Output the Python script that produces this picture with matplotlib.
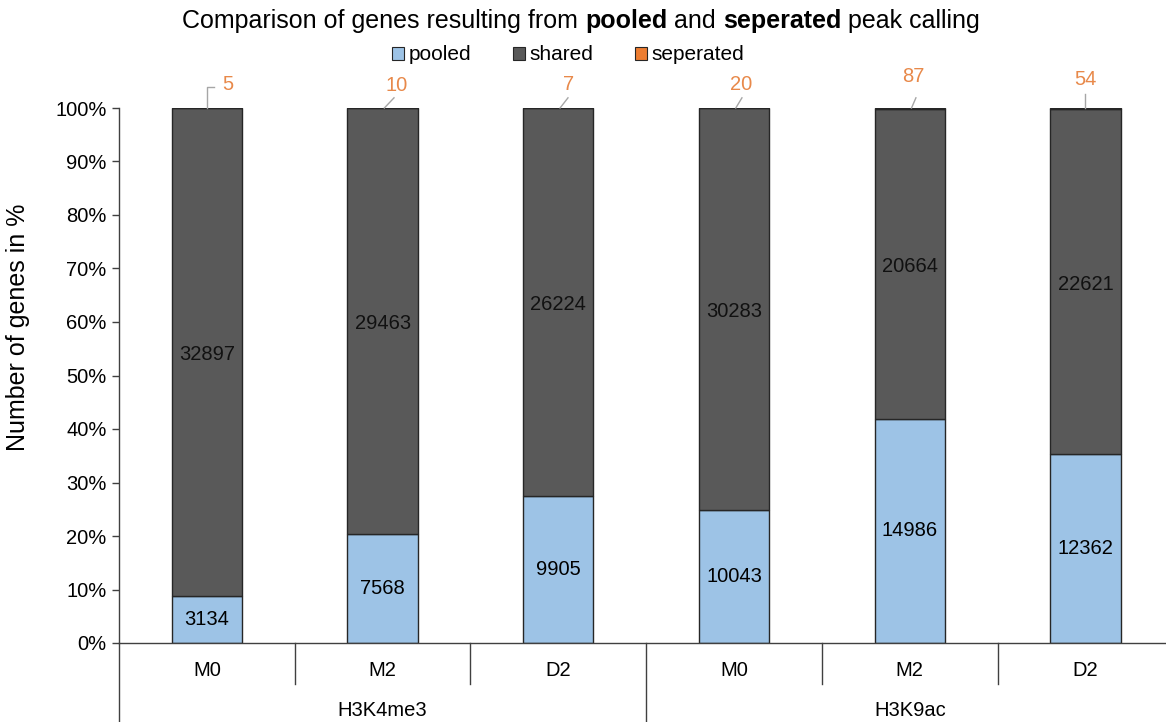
import matplotlib
matplotlib.use("Agg")
import matplotlib.pyplot as plt
import matplotlib.transforms as mtransforms
from matplotlib.patches import Patch
import numpy as np

plt.rcParams['font.family'] = ['Liberation Sans', 'DejaVu Sans']

categories = ["M0", "M2", "D2", "M0", "M2", "D2"]
groups = ["H3K4me3", "H3K9ac"]
pooled = [3134, 7568, 9905, 10043, 14986, 12362]
shared = [32897, 29463, 26224, 30283, 20664, 22621]
seperated = [5, 10, 7, 20, 87, 54]
yticks = [0, 10, 20, 30, 40, 50, 60, 70, 80, 90, 100]

c_pool = "#9DC3E6"
c_shared = "#595959"
c_sep = "#ED7D31"
c_edge = "#262626"

W, H = 1166, 722
fig = plt.figure(figsize=(W / 100, H / 100), dpi=100)
ax = fig.add_axes([119 / W, (H - 643) / H, 1 - 119 / W, (643 - 108) / H])

x = np.arange(len(categories))
pooled = np.array(pooled, float)
shared = np.array(shared, float)
seperated = np.array(seperated, float)
tot = pooled + shared + seperated
p_pool = pooled / tot * 100
p_shared = shared / tot * 100
p_sep = seperated / tot * 100

bw = 0.40
ax.bar(x, p_pool, bw, color=c_pool, edgecolor=c_edge, linewidth=1.0, zorder=2)
ax.bar(x, p_shared, bw, bottom=p_pool, color=c_shared, edgecolor=c_edge, linewidth=1.0, zorder=2)
ax.bar(x, p_sep, bw, bottom=p_pool + p_shared, color=c_sep, edgecolor=c_edge, linewidth=1.0, zorder=2)

fs = 14.5
for i in range(len(x)):
    ax.text(x[i], p_pool[i] / 2, f"{int(pooled[i])}", ha="center", va="center", fontsize=fs, color="black", zorder=3)
    ax.text(x[i], p_pool[i] + p_shared[i] / 2 - 0.5, f"{int(shared[i])}", ha="center", va="center", fontsize=fs, color="#111111", zorder=3)

# separated labels with leader lines (offsets in data units)
lab_off = [(0.12, 4.3), (0.08, 4.2), (0.06, 4.3), (0.04, 4.3), (0.02, 5.8), (0.0, 5.4)]
for i in range(len(x)):
    dx, dy = lab_off[i]
    top = 100
    tx, ty = x[i] + dx, top + dy
    ax.text(tx, ty, f"{int(seperated[i])}", ha="center", va="center", fontsize=fs, color="#E8894A", zorder=3, clip_on=False)
    if i == 0:
        ax.plot([x[i], x[i], x[i] + 0.04], [top, top + 3.9, top + 3.9], color="#A6A6A6", lw=1.0, clip_on=False)
    elif i == 5:
        ax.plot([x[i], x[i]], [top, top + 2.6], color="#A6A6A6", lw=1.0, clip_on=False)
    else:
        ax.plot([x[i] + 0.01, x[i] + dx * 0.5 + 0.025], [top, top + 1.9], color="#A6A6A6", lw=1.0, clip_on=False)

ax.set_ylim(0, 100)
ax.set_xlim(-0.5, (W - 207) / 175.7)
ax.set_yticks(yticks)
ax.set_yticklabels([f"{v}%" for v in yticks], fontsize=fs)
ax.tick_params(axis="y", direction="out", length=5, width=1, color="#404040", pad=4)
ax.set_xticks([])
for s in ["top", "right"]:
    ax.spines[s].set_visible(False)
ax.spines["left"].set_color("#404040")
ax.spines["bottom"].set_color("#404040")
ax.spines["left"].set_linewidth(1.0)
ax.spines["bottom"].set_linewidth(1.0)
fig.text(18 / W, 1 - 327 / H, "Number of genes in %", rotation=90, ha="center", va="center", fontsize=18)

# multi-level x axis
tr = mtransforms.blended_transform_factory(ax.transData, ax.transAxes)
ax_h_px = 643 - 108
def ay(py):
    return (643 - py) / ax_h_px

for i, c in enumerate(categories):
    ax.text(x[i], ay(670), c, transform=tr, ha="center", va="center", fontsize=fs, clip_on=False)
for g_i, g in enumerate(groups):
    ax.text(x[g_i * 3 + 1], ay(711), g, transform=tr, ha="center", va="center", fontsize=fs, clip_on=False)
for b in [0.5, 1.5, 3.5, 4.5]:
    ax.plot([b, b], [0, ay(684)], transform=tr, color="#404040", lw=1.0, clip_on=False)
for b in [-0.5, 2.5, 5.5]:
    ax.plot([b, b], [0, ay(730)], transform=tr, color="#404040", lw=1.0, clip_on=False)

# legend
handles = [Patch(facecolor=c_pool, edgecolor=c_edge, lw=0.8, label="pooled"),
           Patch(facecolor=c_shared, edgecolor=c_edge, lw=0.8, label="shared"),
           Patch(facecolor=c_sep, edgecolor=c_edge, lw=0.8, label="seperated")]
fig.legend(handles=handles, loc="center", bbox_to_anchor=(568 / W, 1 - 55 / H), ncol=3, frameon=False,
           fontsize=15, handlelength=0.6, handleheight=0.6, handletextpad=0.2, columnspacing=2.0,
           borderaxespad=0)

# title with bold parts
parts = [("Comparison of genes resulting from ", "normal"), ("pooled", "bold"), (" and ", "normal"),
         ("seperated", "bold"), (" peak calling", "normal")]
tfs = 18
texts = []
for s, w in parts:
    texts.append(fig.text(0, 1 - 21 / H, s, fontsize=tfs, fontweight=w, ha="left", va="center"))
fig.canvas.draw()
r = fig.canvas.get_renderer()
widths = [t.get_window_extent(r).width for t in texts]
total = sum(widths)
cx = 581
xx = cx - total / 2
for t, w in zip(texts, widths):
    t.set_x(xx / W)
    xx += w

fig.savefig("out.png", dpi=100)
